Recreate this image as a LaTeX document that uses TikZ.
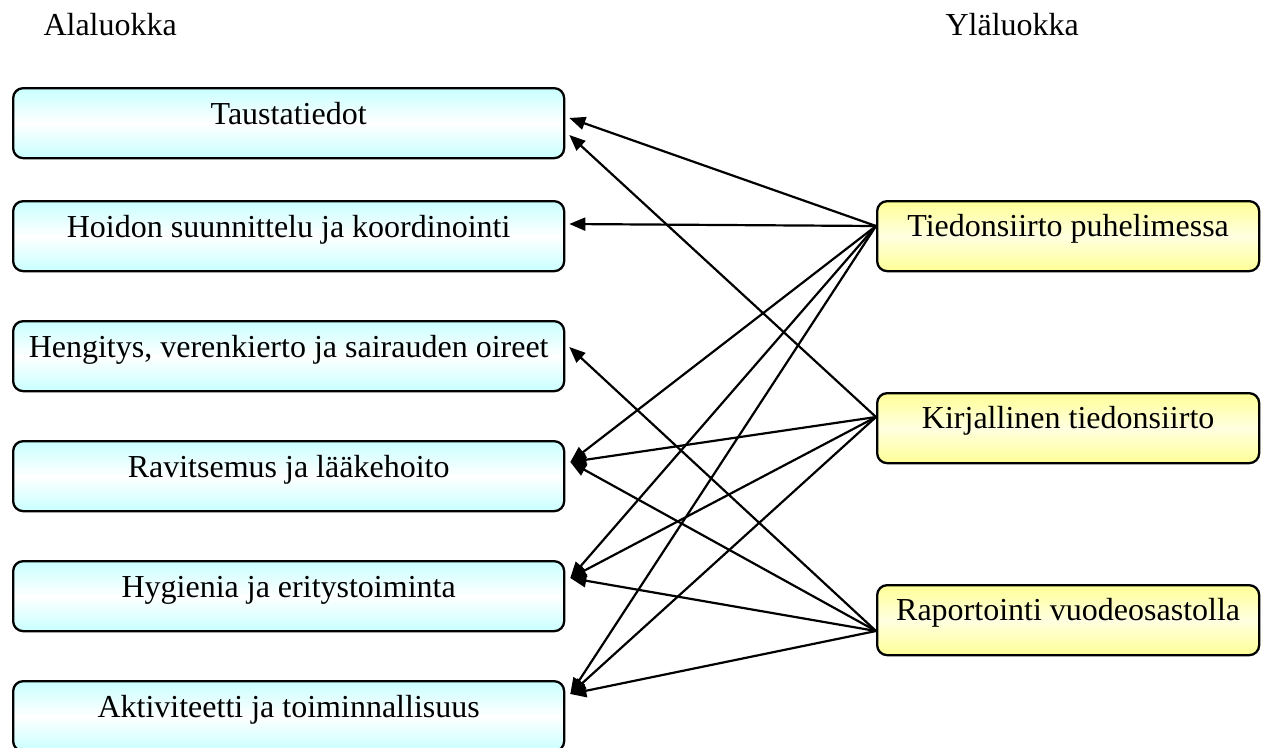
\documentclass[tikz,border=0pt]{standalone}
\usepackage{fontspec}
\setmainfont{Liberation Serif}
\usetikzlibrary{arrows.meta,calc}
\definecolor{lcyan}{RGB}{200,255,255}
\definecolor{lyel}{RGB}{255,255,150}
\definecolor{lyelmid}{RGB}{255,255,225}
\begin{document}
\begin{tikzpicture}[x=1pt,y=-1pt,
  font=\fontsize{32}{38}\selectfont,
  lbox/.style={draw, line width=2.3pt, rounded corners=10pt, top color=lcyan, bottom color=lcyan, middle color=white,
    minimum width=551pt, inner sep=0pt, text height=36pt, text depth=34pt, anchor=north west},
  rbox/.style={draw, line width=2.3pt, rounded corners=10pt, top color=lyel, bottom color=lyel, middle color=lyelmid,
    minimum width=382pt, inner sep=0pt, text height=35pt, text depth=35pt, anchor=north west},
  arr/.style={line width=2.2pt, -{Triangle[length=16pt,width=13pt]}}]
\useasboundingbox (0,0) rectangle (1266,747);
\node[anchor=base west] (h1) at (40,35) {Alaluokka};
\node[anchor=base west] (h2) at (942,35) {Yläluokka};

\node[lbox] (a1) at (12,87) {Taustatiedot};
\node[lbox] (a2) at (12,200) {Hoidon suunnittelu ja koordinointi};
\node[lbox] (a3) at (12,320) {Hengitys, verenkierto ja sairauden oireet};
\node[lbox] (a4) at (12,440) {Ravitsemus ja lääkehoito};
\node[lbox] (a5) at (12,560) {Hygienia ja eritystoiminta};
\node[lbox] (a6) at (12,680) {Aktiviteetti ja toiminnallisuus};

\node[rbox] (b1) at (876,200) {Tiedonsiirto puhelimessa};
\node[rbox] (b2) at (876,392) {Kirjallinen tiedonsiirto};
\node[rbox] (b3) at (876,584) {Raportointi vuodeosastolla};

\coordinate (s1) at ($(b1.north west)+(0,26)$);
\coordinate (s2) at ($(b2.north west)+(0,25)$);
\coordinate (s3) at ($(b3.north west)+(0,47)$);

\coordinate (t1a) at ($(a1.north east)+(4,31)$);
\coordinate (t1b) at ($(a1.north east)+(4,48)$);
\coordinate (t2) at ($(a2.north east)+(4,24)$);
\coordinate (t3) at ($(a3.north east)+(4,27)$);
\coordinate (t4) at ($(a4.north east)+(5,22)$);
\coordinate (t5) at ($(a5.north east)+(5,18)$);
\coordinate (t6) at ($(a6.north east)+(5,14)$);

\draw[arr] (s1) -- (t1a);
\draw[arr] (s1) -- (t2);
\draw[arr] (s1) -- (t4);
\draw[arr] (s1) -- (t5);
\draw[arr] (s1) -- (t6);

\draw[arr] (s2) -- (t1b);
\draw[arr] (s2) -- (t4);
\draw[arr] (s2) -- (t5);
\draw[arr] (s2) -- (t6);

\draw[arr] (s3) -- (t3);
\draw[arr] (s3) -- (t4);
\draw[arr] (s3) -- (t5);
\draw[arr] (s3) -- (t6);
\end{tikzpicture}
\end{document}
